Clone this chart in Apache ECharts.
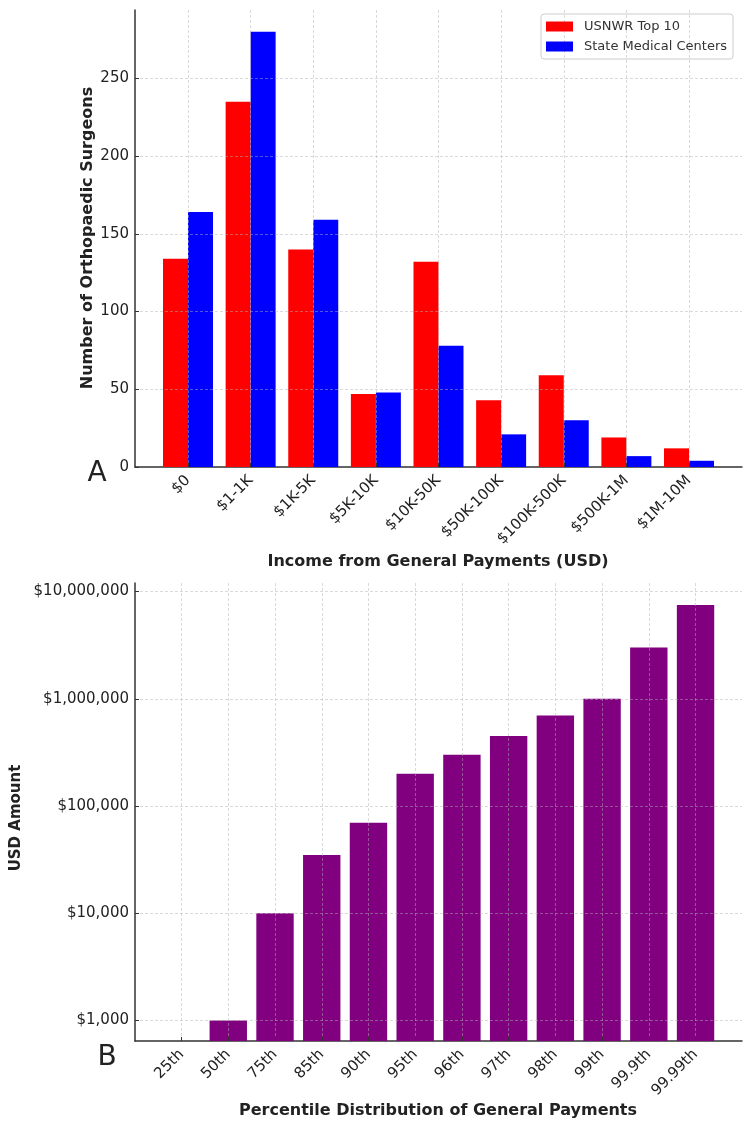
<!DOCTYPE html>
<html lang="en">
<head>
    <meta charset="UTF-8">
    <title>Orthopaedic surgeons general payments</title>
    <script src="https://cdn.jsdelivr.net/npm/echarts@6.0.0/dist/echarts.min.js"></script>
    <style>
        html, body { margin: 0; padding: 0; background: #fff; }
        #main { width: 750px; height: 1130px; }
    </style>
</head>
<body>
<div id="main"></div>
<script>
    // panel A: surgeons per income bracket
    const incomeBrackets = ['$0', '$1-1K', '$1K-5K', '$5K-10K', '$10K-50K', '$50K-100K', '$100K-500K', '$500K-1M', '$1M-10M'];
    const usnwrTop10 = [134, 235, 140, 47, 132, 43, 59, 19, 12];
    const stateCenters = [164, 280, 159, 48, 78, 21, 30, 7, 4];

    // panel B: percentile distribution (log scale)
    const percentiles = ['25th', '50th', '75th', '85th', '90th', '95th', '96th', '97th', '98th', '99th', '99.9th', '99.99th'];
    const usdAmounts = [0, 1000, 10000, 35000, 70000, 200000, 300000, 450000, 700000, 1000000, 3000000, 7500000];

    const FONT = 'DejaVu Sans';
    const TXT = '#222';
    const gridLine = { show: true, lineStyle: { color: 'rgba(176,176,176,0.6)', width: 0.8, type: [3, 2] } };
    const axisLine = { show: true, lineStyle: { color: '#333', width: 1.5 } };
    const tick = { show: true, inside: true, length: 4, interval: 0, lineStyle: { color: '#333' } };

    function money(v) {
        return '$' + String(Math.round(v)).replace(/\B(?=(\d{3})+(?!\d))/g, ',');
    }

    // text helper for panel letters and axis titles
    function label(text, x, y, font, rot) {
        return {
            type: 'text', x: x, y: y, rotation: rot || 0, z: 10,
            style: { text: text, font: font, fill: TXT, textAlign: 'center', textVerticalAlign: 'middle' }
        };
    }

    const chart = echarts.init(document.getElementById('main'));

    const option = {
        animation: false,
        textStyle: { fontFamily: FONT },
        legend: {
            orient: 'vertical',
            left: 541,
            top: 14,
            padding: [6, 6, 6, 5],
            itemGap: 7,
            itemWidth: 27,
            itemHeight: 10,
            icon: 'rect',
            borderColor: '#ccc',
            borderWidth: 1,
            borderRadius: 3,
            textStyle: { fontFamily: FONT, fontSize: 13, color: '#333', padding: [0, 0, 0, 6] },
            data: ['USNWR Top 10', 'State Medical Centers']
        },
        graphic: [
            label('A', 97, 474, '28px "DejaVu Sans"'),
            label('B', 107, 1058, '28px "DejaVu Sans"'),
            label('Number of Orthopaedic Surgeons', 87.5, 238, 'bold 16px "DejaVu Sans"', Math.PI / 2),
            label('Income from General Payments (USD)', 438, 562, 'bold 16px "DejaVu Sans"'),
            label('USD Amount', 16, 818, 'bold 15px "DejaVu Sans"', Math.PI / 2),
            label('Percentile Distribution of General Payments', 438, 1111, 'bold 16px "DejaVu Sans"')
        ],
        grid: [
            // 0: panel A frame (axis lines + horizontal grid)
            { left: 135, right: 8, top: 10, bottom: 663, outerBoundsMode: 'none' },
            // 1: panel A bars, category ticks at bar-group centers
            { left: 188, right: 61, top: 10, bottom: 663, outerBoundsMode: 'none' },
            // 2: panel B frame
            { left: 135, right: 8, top: 583, bottom: 89, outerBoundsMode: 'none' },
            // 3: panel B bars (band layout)
            { left: 158.2, right: 31.1, top: 583, bottom: 89, outerBoundsMode: 'none' },
            // 4: panel B category labels / vertical grid
            { left: 181.6, right: 54.5, top: 583, bottom: 89, outerBoundsMode: 'none' }
        ],
        xAxis: [
            { gridIndex: 0, type: 'value', min: 0, max: 1, axisLine: axisLine, axisTick: { show: false }, axisLabel: { show: false }, splitLine: { show: false } },
            {
                gridIndex: 1, type: 'category', data: incomeBrackets, boundaryGap: false, z: 3,
                axisLine: { show: false },
                axisTick: tick,
                axisLabel: { interval: 0, rotate: 45, margin: 11, fontSize: 15, color: TXT, fontFamily: FONT },
                splitLine: Object.assign({ interval: 0 }, gridLine)
            },
            { gridIndex: 2, type: 'value', min: 0, max: 1, axisLine: axisLine, axisTick: { show: false }, axisLabel: { show: false }, splitLine: { show: false } },
            { gridIndex: 3, type: 'category', data: percentiles, show: false },
            {
                gridIndex: 4, type: 'category', data: percentiles, boundaryGap: false, z: 3,
                axisLine: { show: false },
                axisTick: tick,
                axisLabel: { interval: 0, rotate: 45, margin: 11, fontSize: 15, color: TXT, fontFamily: FONT },
                splitLine: Object.assign({ interval: 0 }, gridLine)
            }
        ],
        yAxis: [
            {
                gridIndex: 0, type: 'value', min: 0, max: 294, interval: 50, z: 3,
                axisLine: axisLine,
                axisTick: tick,
                axisLabel: { fontSize: 15, color: TXT, fontFamily: FONT, margin: 6, showMaxLabel: false },
                splitLine: Object.assign({ showMaxLine: false, showMinLine: false }, gridLine)
            },
            { gridIndex: 1, type: 'value', min: 0, max: 294, show: false },
            {
                gridIndex: 2, type: 'log', logBase: 10, min: 645, max: 12000000, z: 3,
                axisLine: axisLine,
                axisTick: tick,
                axisLabel: { fontSize: 15, color: TXT, fontFamily: FONT, margin: 6, showMinLabel: false, showMaxLabel: false, formatter: money },
                splitLine: Object.assign({ showMaxLine: false, showMinLine: false }, gridLine)
            },
            { gridIndex: 3, type: 'log', logBase: 10, min: 645, max: 12000000, show: false },
            { gridIndex: 4, type: 'log', logBase: 10, min: 645, max: 12000000, show: false }
        ],
        series: [
            {
                name: 'USNWR Top 10', type: 'bar', xAxisIndex: 1, yAxisIndex: 1,
                data: usnwrTop10, barWidth: 25, barGap: '0%', clip: false,
                itemStyle: { color: '#ff0000' }
            },
            {
                name: 'State Medical Centers', type: 'bar', xAxisIndex: 1, yAxisIndex: 1,
                data: stateCenters, barWidth: 25, barGap: '0%', clip: false,
                itemStyle: { color: '#0000ff' }
            },
            {
                name: 'USD Amount', type: 'bar', xAxisIndex: 3, yAxisIndex: 3,
                data: usdAmounts.map(v => (v > 0 ? v : '-')), barWidth: '80%', clip: true,
                itemStyle: { color: '#800080' }
            }
        ]
    };

    chart.setOption(option);
</script>
</body>
</html>
